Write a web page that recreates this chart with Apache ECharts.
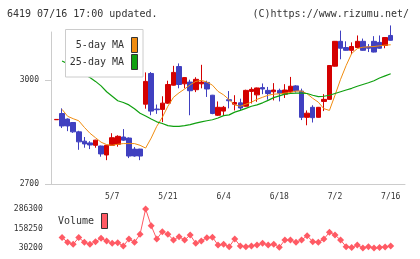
<!DOCTYPE html>
<html>
<head>
<meta charset="utf-8">
<script src="https://cdn.jsdelivr.net/npm/echarts@6/dist/echarts.min.js"></script>
<style>
html, body { margin: 0; padding: 0; background: #fff; }
#chart { width: 420px; height: 259px; }
</style>
</head>
<body>
<div id="chart"></div>
<script>
// trading days shown (2025)
var dates = ['4/18','4/21','4/22','4/23','4/24','4/25','4/28','4/30',
  '5/1','5/2','5/7','5/8','5/9','5/12','5/13','5/14','5/15','5/16','5/19','5/20','5/21','5/22','5/23','5/26','5/27','5/28','5/29','5/30',
  '6/2','6/3','6/4','6/5','6/6','6/9','6/10','6/11','6/12','6/13','6/16','6/17','6/18','6/19','6/20','6/23','6/24','6/25','6/26','6/27','6/30',
  '7/1','7/2','7/3','7/4','7/7','7/8','7/9','7/10','7/11','7/14','7/15','7/16'];
// [open, close, low, high]
var ohlc = [
  [2886,2887,2886,2887],[2904,2868,2862,2919],[2888,2868,2853,2890],[2878,2851,2848,2879],[2851,2822,2799,2854],
  [2824,2816,2805,2836],[2819,2813,2801,2824],[2812,2827,2805,2828],[2810,2787,2779,2811],[2784,2812,2769,2813],
  [2812,2834,2811,2847],[2815,2838,2808,2841],[2836,2827,2825,2859],[2833,2781,2775,2835],[2801,2781,2779,2807],
  [2801,2781,2769,2802],[2931,2997,2918,3023],[3020,2911,2899,3024],[2917,2915,2903,2930],[2916,2934,2879,2954],
  [2934,2988,2932,2999],[2986,3023,2985,3042],[3040,2988,2977,3049],[2990,3008,2977,3009],[2995,2970,2899,3002],
  [2973,3003,2966,3009],[2990,2995,2977,3045],[2994,2975,2952,2999],[2957,2904,2902,2958],[2899,2922,2897,2939],
  [2911,2922,2899,2926],[2944,2941,2919,2969],[2931,2936,2913,2957],[2935,2920,2913,2947],[2925,2971,2924,2973],
  [2968,2974,2933,2980],[2958,2978,2938,2979],[2979,2975,2960,2991],[2971,2962,2944,2981],[2967,2972,2942,2992],
  [2971,2963,2939,2976],[2960,2972,2949,2989],[2967,2983,2962,3010],[2984,2970,2965,2986],[2969,2893,2885,2976],
  [2893,2905,2870,2913],[2922,2892,2878,2928],[2893,2922,2892,2923],[2939,2945,2911,2960],[2945,3043,2944,3044],
  [3041,3113,3040,3114],[3113,3093,3061,3144],[3095,3087,3086,3113],[3087,3098,3076,3110],[3095,3113,3094,3130],
  [3113,3087,3086,3121],[3097,3093,3082,3105],[3113,3082,3081,3128],[3110,3093,3092,3130],[3101,3124,3093,3125],
  [3130,3116,3115,3159]
];
var ma5 = [null,2916,2896,2889,2883,2864,2847,2834,2821,2814,2812,2815,2817,2817,2817,2812,2804,2833,2867,2893,
  2925,2951,2964,2975,2987,2997,3000,2995,2986,2968,2958,2944,2929,2925,2931,2937,2945,2951,2957,2960,
  2961,2963,2965,2969,2969,2961,2948,2937,2918,2913,2957,3003,3043,3078,3092,3096,3097,3098,3100,3102,3103];
var ma25 = [null,3056,3048,3038,3027,3017,3008,2997,2984,2967,2954,2941,2936,2929,2918,2905,2897,2888,2880,2875,
  2869,2867,2867,2869,2872,2876,2880,2883,2886,2891,2898,2900,2908,2913,2919,2925,2929,2935,2942,2950,
  2955,2960,2962,2963,2963,2962,2957,2953,2954,2957,2962,2967,2972,2977,2983,2988,2993,2999,3007,3013,3019];
var volume = [null,99000,67600,54500,99000,67600,54500,71600,93900,76200,61100,65000,43300,89300,67600,120200,286300,176600,89300,137200,
  120200,82700,104400,82700,115600,61100,76200,97800,101100,49900,54500,38700,89300,43300,38700,43300,49900,61100,49900,54500,
  34800,82700,82700,67600,82700,111000,71600,67600,89300,133300,115600,82700,38700,33000,49900,30200,38700,31000,33500,36800,43300];
var priceTicks = [2700, 3000];
var frameTicks = ['', '', '', '', '', '', '', '', '', '', ''];

var FONT = '"DejaVu Sans Mono", monospace';
var upColor = '#d40000', downColor = '#4040c0';
var axisGrey = '#cccccc';
function plain(v) { return String(v); }

var myChart = echarts.init(document.getElementById('chart'), null, { renderer: 'canvas' });
var option = {
  animation: false,
  grid: [
    { left: 51, right: 15, top: 32, height: 152 },
    { left: 53.715, right: 26.51, top: 32, height: 152 },
    { left: 53.715, right: 26.51, top: 209, height: 39 }
  ],
  xAxis: [
    { type: 'category', gridIndex: 0, data: frameTicks, boundaryGap: true,
      axisLine: { lineStyle: { color: axisGrey } },
      axisTick: { interval: 0, length: 5, lineStyle: { color: axisGrey } },
      axisLabel: { show: false }, splitLine: { show: false } },
    { type: 'category', gridIndex: 1, data: dates, boundaryGap: true,
      axisLine: { show: false }, axisTick: { show: false },
      axisLabel: { interval: function (i) { return i > 0 && i % 10 === 0; },
        fontSize: 8, fontFamily: FONT, color: '#333', margin: 9 },
      splitLine: { show: false } },
    { type: 'category', gridIndex: 2, data: dates, boundaryGap: true, show: false }
  ],
  yAxis: [
    { type: 'value', gridIndex: 0, min: 2700, max: 3140,
      axisLine: { show: true, lineStyle: { color: axisGrey } },
      axisTick: { show: true, length: 6, customValues: priceTicks, lineStyle: { color: axisGrey } },
      axisLabel: { customValues: priceTicks, formatter: plain, fontSize: 8, fontFamily: FONT, color: '#333', margin: 12 },
      splitLine: { show: false } },
    { type: 'value', gridIndex: 1, min: 2700, max: 3140, show: false, splitLine: { show: false } },
    { type: 'value', gridIndex: 2, min: 30200, max: 286300, interval: 128050,
      axisLine: { show: false }, axisTick: { show: false },
      axisLabel: { formatter: plain, fontSize: 8, fontFamily: FONT, color: '#333', margin: 11 },
      splitLine: { show: false } }
  ],
  series: [
    { type: 'candlestick', xAxisIndex: 1, yAxisIndex: 1, data: ohlc, barWidth: 5, clip: false,
      itemStyle: { color: upColor, color0: downColor, borderColor: upColor, borderColor0: downColor, borderWidth: 1 } },
    { type: 'line', name: '5-day MA', xAxisIndex: 1, yAxisIndex: 1, data: ma5, symbol: 'none',
      color: '#f08c10', lineStyle: { width: 1 }, z: 3 },
    { type: 'line', name: '25-day MA', xAxisIndex: 1, yAxisIndex: 1, data: ma25, symbol: 'none',
      color: '#10a010', lineStyle: { width: 1.2 }, z: 3 },
    { type: 'line', name: 'Volume', xAxisIndex: 2, yAxisIndex: 2, data: volume, symbol: 'diamond',
      symbolSize: 7, showAllSymbol: true, color: '#ff5a64', lineStyle: { width: 1 }, clip: false }
  ],
  graphic: [
    { type: 'text', z: 100, style: { x: 7, y: 14, text: '6419 07/16 17:00 updated.', font: '10px ' + FONT, fill: '#333', textVerticalAlign: 'middle' } },
    { type: 'text', z: 100, style: { x: 409, y: 14, text: '(C)https://www.rizumu.net/', font: '10px ' + FONT, fill: '#333', textAlign: 'right', textVerticalAlign: 'middle' } },
    { type: 'rect', z: 100, shape: { x: 65.5, y: 29.5, width: 77.5, height: 47.5 }, style: { fill: '#fff', stroke: '#cccccc', lineWidth: 1 } },
    { type: 'text', z: 101, style: { x: 124, y: 45.5, text: '5-day MA', font: '10px ' + FONT, fill: '#333', textAlign: 'right', textVerticalAlign: 'middle' } },
    { type: 'rect', z: 101, shape: { x: 131.5, y: 37.5, width: 6, height: 15 }, style: { fill: '#f08c10', stroke: '#333', lineWidth: 1 } },
    { type: 'text', z: 101, style: { x: 124, y: 62, text: '25-day MA', font: '10px ' + FONT, fill: '#333', textAlign: 'right', textVerticalAlign: 'middle' } },
    { type: 'rect', z: 101, shape: { x: 131.5, y: 54.5, width: 6, height: 15 }, style: { fill: '#10a010', stroke: '#333', lineWidth: 1 } },
    { type: 'text', z: 101, style: { x: 58, y: 221.5, text: 'Volume', font: '10px ' + FONT, fill: '#333', textVerticalAlign: 'middle' } },
    { type: 'rect', z: 101, shape: { x: 101.5, y: 213.5, width: 6, height: 15 }, style: { fill: '#ff5a64', stroke: '#333', lineWidth: 1 } }
  ]
};
myChart.setOption(option);
</script>
</body>
</html>
